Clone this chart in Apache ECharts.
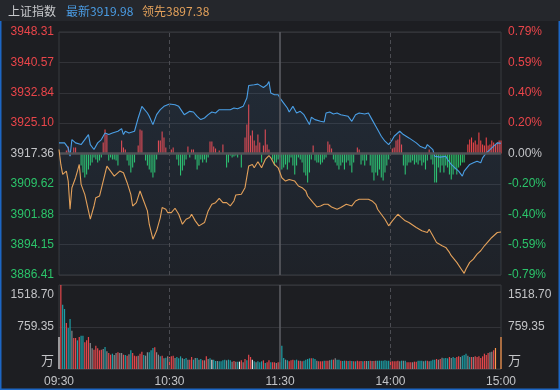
<!DOCTYPE html>
<html><head><meta charset="utf-8">
<script src="https://cdn.jsdelivr.net/npm/echarts@6/dist/echarts.min.js"></script>
<style>html,body{margin:0;padding:0;background:#1d1e22;overflow:hidden}#c{width:560px;height:390px}</style>
</head><body><div id="c"></div>
<script>
// ---------- data ----------
const indexName = '上证指数';
const latestLabel = '最新', leadLabel = '领先';
const latestValue = '3919.98', leadValue = '3897.38';
const priceTicks = ['3886.41','3894.15','3901.88','3909.62','3917.36','3925.10','3932.84','3940.57','3948.31'];
const pctTicks = ['-0.79%','-0.59%','-0.40%','-0.20%','0.00%','0.20%','0.40%','0.59%','0.79%'];
const volTicks = ['万','759.35','1518.70'];
const timeLabels = ['09:30','10:30','11:30','14:00','15:00'];

// [minute index, price]
const priceLine = [[0,3920.07],[1,3920.49],[3,3920.07],[5,3918.80],[6,3916.68],[7,3920.91],[9,3920.07],[10,3920.49],[12,3919.64],[14,3920.91],[16,3922.18],[17,3919.64],[19,3918.37],[20,3918.80],[21,3920.07],[23,3920.91],[25,3922.60],[27,3922.18],[29,3922.60],[30,3923.03],[32,3923.03],[34,3923.70],[35,3922.18],[36,3923.03],[38,3922.60],[39,3922.18],[41,3923.03],[43,3926.41],[45,3929.37],[46,3929.37],[48,3927.68],[49,3926.83],[51,3924.72],[53,3927.25],[55,3928.52],[57,3929.37],[58,3929.79],[60,3929.96],[61,3930.46],[63,3929.79],[65,3929.37],[68,3927.25],[69,3927.68],[71,3928.10],[73,3927.93],[75,3926.83],[77,3925.99],[79,3926.41],[81,3927.25],[83,3927.93],[85,3927.68],[87,3928.52],[88,3928.10],[90,3928.52],[93,3928.52],[95,3928.94],[97,3928.78],[100,3929.37],[102,3931.48],[103,3934.69],[106,3934.87],[108,3935.03],[111,3934.19],[113,3934.87],[114,3935.71],[115,3932.75],[117,3932.33],[119,3932.33],[120,3931.48],[122,3930.21],[124,3928.94],[125,3927.93],[127,3929.37],[129,3927.68],[131,3928.10],[133,3927.25],[134,3926.41],[136,3924.72],[137,3926.58],[139,3925.99],[142,3925.56],[144,3925.39],[145,3927.68],[147,3927.93],[149,3927.42],[151,3927.68],[153,3927.25],[154,3927.68],[157,3926.83],[159,3925.56],[161,3927.25],[163,3927.68],[164,3927.25],[166,3927.42],[168,3927.68],[170,3925.99],[172,3924.29],[173,3923.45],[175,3921.76],[177,3920.49],[179,3919.64],[181,3920.91],[182,3921.76],[185,3923.03],[187,3922.18],[190,3921.33],[191,3920.91],[194,3920.07],[196,3919.22],[199,3918.63],[200,3919.64],[201,3920.07],[203,3918.37],[204,3916.68],[207,3916.43],[210,3916.68],[211,3915.84],[213,3914.57],[215,3913.72],[217,3912.88],[219,3911.61],[220,3912.88],[223,3914.57],[225,3914.99],[227,3915.41],[229,3914.99],[230,3916.26],[232,3917.53],[234,3918.37],[236,3919.22],[238,3920.07],[239,3920.32],[240,3919.98]];

const leadLine = [[0,3918.37],[1,3914.57],[2,3912.03],[4,3912.88],[5,3910.34],[6,3903.15],[7,3908.65],[9,3911.19],[10,3912.88],[11,3914.57],[12,3909.50],[14,3906.96],[16,3902.73],[17,3900.62],[19,3903.99],[20,3906.11],[22,3906.53],[24,3910.34],[26,3914.15],[28,3912.88],[30,3911.61],[31,3911.19],[33,3912.88],[35,3912.46],[37,3909.92],[39,3906.96],[40,3903.99],[42,3904.84],[44,3907.80],[46,3905.27],[48,3902.73],[49,3899.35],[51,3895.54],[53,3897.66],[55,3901.05],[56,3903.58],[58,3903.15],[59,3902.31],[61,3902.31],[63,3903.41],[65,3901.89],[67,3899.35],[69,3900.62],[71,3901.05],[72,3901.89],[74,3900.20],[76,3898.93],[77,3899.35],[79,3899.77],[81,3902.73],[83,3904.42],[85,3904.84],[87,3905.94],[89,3904.84],[91,3904.84],[93,3904.00],[95,3905.27],[96,3906.79],[99,3906.96],[101,3908.65],[103,3914.15],[105,3914.57],[106,3913.72],[108,3915.25],[110,3913.72],[112,3915.84],[114,3916.85],[115,3916.26],[117,3914.57],[119,3913.72],[121,3911.19],[123,3910.34],[125,3910.76],[126,3911.19],[128,3910.34],[130,3909.07],[132,3908.65],[134,3907.80],[135,3906.53],[138,3904.84],[140,3903.74],[142,3904.00],[144,3904.42],[146,3904.42],[148,3903.74],[151,3903.15],[153,3903.58],[156,3904.42],[157,3904.84],[159,3904.00],[161,3905.27],[163,3905.69],[165,3905.69],[168,3905.69],[170,3905.27],[172,3904.42],[173,3903.15],[175,3901.89],[177,3900.62],[179,3898.93],[181,3900.20],[182,3900.62],[184,3901.89],[186,3901.04],[188,3900.20],[190,3899.77],[191,3899.35],[194,3898.50],[197,3897.66],[200,3897.23],[201,3898.08],[203,3896.39],[205,3894.70],[208,3893.85],[210,3893.43],[212,3892.16],[213,3891.32],[216,3889.63],[219,3887.51],[220,3886.84],[221,3887.94],[223,3889.63],[225,3890.47],[227,3891.74],[229,3892.59],[230,3893.01],[231,3893.85],[235,3895.97],[238,3897.23],[239,3897.66],[240,3897.38]];

// per-minute buy/sell strength (red up, green down)
const strength = [0,0,0,0,3,7,0,0,6,6,
0,0,-12,-19,-24,-21,-16,-12,-9,-4,
-6,-9,-7,-4,11,24,19,-7,-4,-6,
-6,-7,-12,0,13,6,4,-7,-12,-19,
-14,-9,0,8,24,23,0,-7,-12,-16,
-19,-24,-19,-6,13,13,22,16,6,0,
0,4,6,0,-6,-12,-22,-17,-12,-6,
7,-4,4,4,-6,-16,-12,-6,-9,-6,
-9,-4,12,12,7,5,0,3,0,9,
0,-14,-9,-2,-4,-3,-2,-4,0,-14,
0,16,29,49,18,23,13,8,19,11,
-9,8,24,9,4,0,-6,-12,-9,-6,
-4,-16,-14,-11,-16,-9,-4,-12,-21,-12,
-4,-6,-9,-19,-22,-29,-19,-6,8,-7,
-9,-9,-11,-9,-6,-4,12,9,5,-6,
-9,-12,-16,-12,-9,-16,-9,-7,-12,-19,
-9,0,6,4,-11,-7,-12,-7,0,-12,
-19,-27,-19,-22,-16,-24,-27,-19,-12,-6,
0,5,6,13,14,19,9,-12,-21,-12,
-9,-9,-7,-11,-9,-11,-7,-12,-9,-16,
-7,4,-6,-11,-29,-29,-14,-19,-12,-19,
-12,-14,-21,-26,-21,-16,-21,-14,-12,-9,
-9,0,9,14,16,11,13,9,21,13,
9,8,16,8,9,13,11,9,11,13,
13];

// per-minute volume (万)
const volume = [579,1518.7,1163,1085,832,741,904,693,560,560,
518,579,603,603,482,518,579,470,374,350,
422,374,338,350,362,398,319,289,259,277,
253,289,301,289,289,259,253,241,265,338,
289,241,229,241,277,313,253,241,301,301,
338,380,392,301,259,229,241,193,205,229,
217,229,241,199,217,193,229,193,181,199,
169,169,217,169,199,199,169,181,157,157,
229,181,193,169,169,145,145,139,139,157,
169,157,169,157,133,145,133,133,133,157,
121,181,157,259,217,169,139,121,139,121,
139,157,108,121,157,121,121,121,108,121,
121,
422,199,169,157,139,157,169,157,169,151,
151,139,151,169,181,193,193,193,181,151,
139,139,139,151,151,151,157,169,169,193,
169,169,151,145,151,151,145,151,145,139,
139,151,139,145,139,145,145,145,151,145,
145,151,151,151,151,151,157,151,151,151,
139,139,139,151,139,151,151,151,121,121,
121,121,133,133,151,151,151,139,151,151,
139,151,169,169,181,169,181,205,193,199,
193,217,199,217,199,217,229,217,241,253,
277,241,217,217,217,229,217,229,199,229,
277,253,289,301,313,338,380,0,0,579];

// 1 = up, -1 = down, 0 = flat, 2 = auction
const volDir = [2,1,-1,-1,1,-1,-1,0,1,1,
-1,1,-1,-1,1,1,1,0,0,1,
1,1,1,1,0,-1,0,1,1,-1,
0,0,1,0,0,1,-1,1,0,-1,
1,1,1,0,1,1,-1,0,0,-1,
-1,-1,1,0,0,-1,1,0,-1,0,
1,1,1,0,-1,-1,-1,0,-1,-1,
0,1,1,-1,0,-1,0,-1,1,0,
1,0,-1,2,-1,-1,0,-1,-1,-1,
-1,0,-1,-1,0,1,0,-1,2,1,
0,1,-1,1,1,2,-1,0,-1,-1,
-1,1,-1,1,1,-1,1,1,0,1,
0,
-1,-1,0,-1,1,1,1,-1,-1,1,
0,1,-1,-1,-1,-1,1,-1,-1,0,
1,1,1,-1,1,1,0,-1,1,0,
-1,-1,1,-1,-1,1,-1,1,-1,1,
-1,1,1,1,-1,1,0,-1,1,0,
1,0,-1,-1,-1,-1,-1,-1,-1,1,
1,1,1,1,0,-1,0,-1,1,1,
1,0,1,1,-1,-1,-1,0,-1,1,
0,-1,-1,-1,1,0,1,0,-1,-1,
-1,1,0,-1,-1,1,1,0,-1,-1,
-1,0,-1,1,0,1,1,1,1,1,
1,1,1,0,0,1];

// ---------- chart ----------
const FONT = "'Liberation Sans', 'Noto Sans CJK SC', sans-serif";
const CJK = "'Noto Sans CJK SC', 'Liberation Sans', sans-serif";
const RED = '#ea454a', GREEN = '#2bc46a', GREY_TXT = '#c3c4c7';
const base = parseFloat(priceTicks[0]);
const nSteps = priceTicks.length - 1;
const step = (parseFloat(priceTicks[nSteps]) - base) / nSteps;
const norm = p => (p - base) / step;
const zeroIdx = pctTicks.indexOf('0.00%');
const volStep = parseFloat(volTicks[1]);
const volMax = parseFloat(volTicks[2]);
const minutes = timeLabels.length - 1;
const totalMin = strength.length - 1;
const xStep = totalMin / minutes;

const richPrice = {
  up: {color: RED, fontSize: 12, fontFamily: FONT},
  dn: {color: GREEN, fontSize: 12, fontFamily: FONT},
  flat: {color: GREY_TXT, fontSize: 12, fontFamily: FONT}
};
function cls(i){ return i > zeroIdx ? 'up' : (i < zeroIdx ? 'dn' : 'flat'); }
const richVol = {
  top: {color: GREY_TXT, fontSize: 12, fontFamily: FONT, padding: [20, 0, 0, 0]},
  mid: {color: GREY_TXT, fontSize: 12, fontFamily: FONT},
  bot: {color: GREY_TXT, fontSize: 13, fontFamily: CJK, padding: [0, 0, 18, 0]}
};
function volFmt(v){
  const i = Math.round(v / volStep);
  const k = i === 2 ? 'top' : (i === 1 ? 'mid' : 'bot');
  return '{' + k + '|' + volTicks[i] + '}';
}
const volColor = {1: '#e4474c', '-1': '#1c9fa6', 0: '#85878b', 2: '#e6e6e6'};

const vLines = [
  {xAxis: xStep, lineStyle: {type: [4, 3], color: '#4b4c52', width: 1}},
  {xAxis: xStep * 2, lineStyle: {type: 'solid', color: '#5a5b61', width: 1.6}},
  {xAxis: xStep * 3, lineStyle: {type: [4, 3], color: '#4b4c52', width: 1}}
];
const mlCommon = {symbol: 'none', silent: true, label: {show: false}, animation: false};

const chart = echarts.init(document.getElementById('c'), null, {width: 560, height: 390});
chart.setOption({
  backgroundColor: '#1d1e22',
  animation: false,
  graphic: [
    {type: 'rect', shape: {x: 0, y: 0, width: 560, height: 21}, style: {fill: '#25272c'}, z: -1},
    {type: 'rect', shape: {x: 0, y: 21, width: 1.5, height: 369}, style: {fill: '#1d66c4'}},
    {type: 'rect', shape: {x: 558.5, y: 21, width: 1.5, height: 369}, style: {fill: '#1d66c4'}},
    {type: 'rect', shape: {x: 0, y: 388.5, width: 560, height: 1.5}, style: {fill: '#1d66c4'}},
    {type: 'text', x: 8, y: 11, style: {text: indexName, fill: '#c8c9cc', font: "12px " + CJK, textVerticalAlign: 'middle'}},
    {type: 'text', x: 66, y: 11, style: {text: latestLabel + latestValue, fill: '#4a9be2', font: "12px " + CJK, textVerticalAlign: 'middle'}},
    {type: 'text', x: 142, y: 11, style: {text: leadLabel + leadValue, fill: '#e3a15b', font: "12px " + CJK, textVerticalAlign: 'middle'}}
  ],
  grid: [
    {left: 59, right: 59, top: 32, height: 243, show: true, borderColor: '#393a3f', borderWidth: 1},
    {left: 59, right: 59, top: 285, height: 84, show: true, borderColor: '#393a3f', borderWidth: 1}
  ],
  xAxis: [
    {gridIndex: 0, type: 'value', min: 0, max: totalMin, interval: xStep,
     axisLabel: {show: false}, axisLine: {show: false}, axisTick: {show: false}, splitLine: {show: false}},
    {gridIndex: 1, type: 'value', min: 0, max: totalMin, interval: xStep,
     axisLine: {show: false}, axisTick: {show: false}, splitLine: {show: false},
     axisLabel: {color: GREY_TXT, fontSize: 12, fontFamily: FONT, margin: 7,
       formatter: v => timeLabels[Math.round(v / xStep)]}}
  ],
  yAxis: [
    {gridIndex: 0, type: 'value', position: 'left', min: 0, max: nSteps, interval: 1,
     axisLine: {show: false}, axisTick: {show: false},
     splitLine: {show: true, lineStyle: {color: '#323338', width: 1}},
     axisLabel: {margin: 5, formatter: v => { const i = Math.round(v); return '{' + cls(i) + '|' + priceTicks[i] + '}'; }, rich: richPrice}},
    {gridIndex: 0, type: 'value', position: 'right', min: 0, max: nSteps, interval: 1,
     axisLine: {show: false}, axisTick: {show: false}, splitLine: {show: false},
     axisLabel: {margin: 7, formatter: v => { const i = Math.round(v); return '{' + cls(i) + '|' + pctTicks[i] + '}'; }, rich: richPrice}},
    {gridIndex: 0, type: 'value', min: -121.5, max: 121.5, show: false},
    {gridIndex: 1, type: 'value', position: 'left', min: 0, max: volMax, interval: volStep,
     axisLine: {show: false}, axisTick: {show: false},
     splitLine: {show: true, lineStyle: {color: '#323338', width: 1}},
     axisLabel: {margin: 5, formatter: volFmt, rich: richVol}},
    {gridIndex: 1, type: 'value', position: 'right', min: 0, max: volMax, interval: volStep,
     axisLine: {show: false}, axisTick: {show: false}, splitLine: {show: false},
     axisLabel: {margin: 7, formatter: volFmt, rich: richVol}}
  ],
  series: [
    {type: 'bar', xAxisIndex: 0, yAxisIndex: 2, barWidth: 1.1, z: 2,
     data: strength.map((v, i) => ({value: [i, v], itemStyle: {color: v >= 0 ? RED : GREEN}})),
     markLine: Object.assign({}, mlCommon, {data: [{yAxis: 0, lineStyle: {type: 'solid', color: '#4f5156', width: 2.5}}]})},
    {type: 'line', xAxisIndex: 0, yAxisIndex: 0, z: 4, showSymbol: false, symbol: 'none',
     lineStyle: {color: '#4a9fe6', width: 1.1},
     areaStyle: {origin: 'start', color: {type: 'linear', x: 0, y: 0, x2: 0, y2: 1,
       colorStops: [{offset: 0, color: 'rgba(70,140,210,0.16)'}, {offset: 1, color: 'rgba(70,140,210,0.05)'}]}},
     data: priceLine.map(d => [d[0], norm(d[1])]),
     markLine: Object.assign({}, mlCommon, {data: vLines})},
    {type: 'line', xAxisIndex: 0, yAxisIndex: 0, z: 5, showSymbol: false, symbol: 'none',
     lineStyle: {color: '#e3a15b', width: 1.1},
     data: leadLine.map(d => [d[0], norm(d[1])])},
    {type: 'bar', xAxisIndex: 1, yAxisIndex: 3, barWidth: 1.2, z: 2,
     data: volume.map((v, i) => ({value: [i, v], itemStyle: {color: volColor[volDir[i]]}})),
     markLine: Object.assign({}, mlCommon, {data: vLines})}
  ]
});
</script>
</body></html>
